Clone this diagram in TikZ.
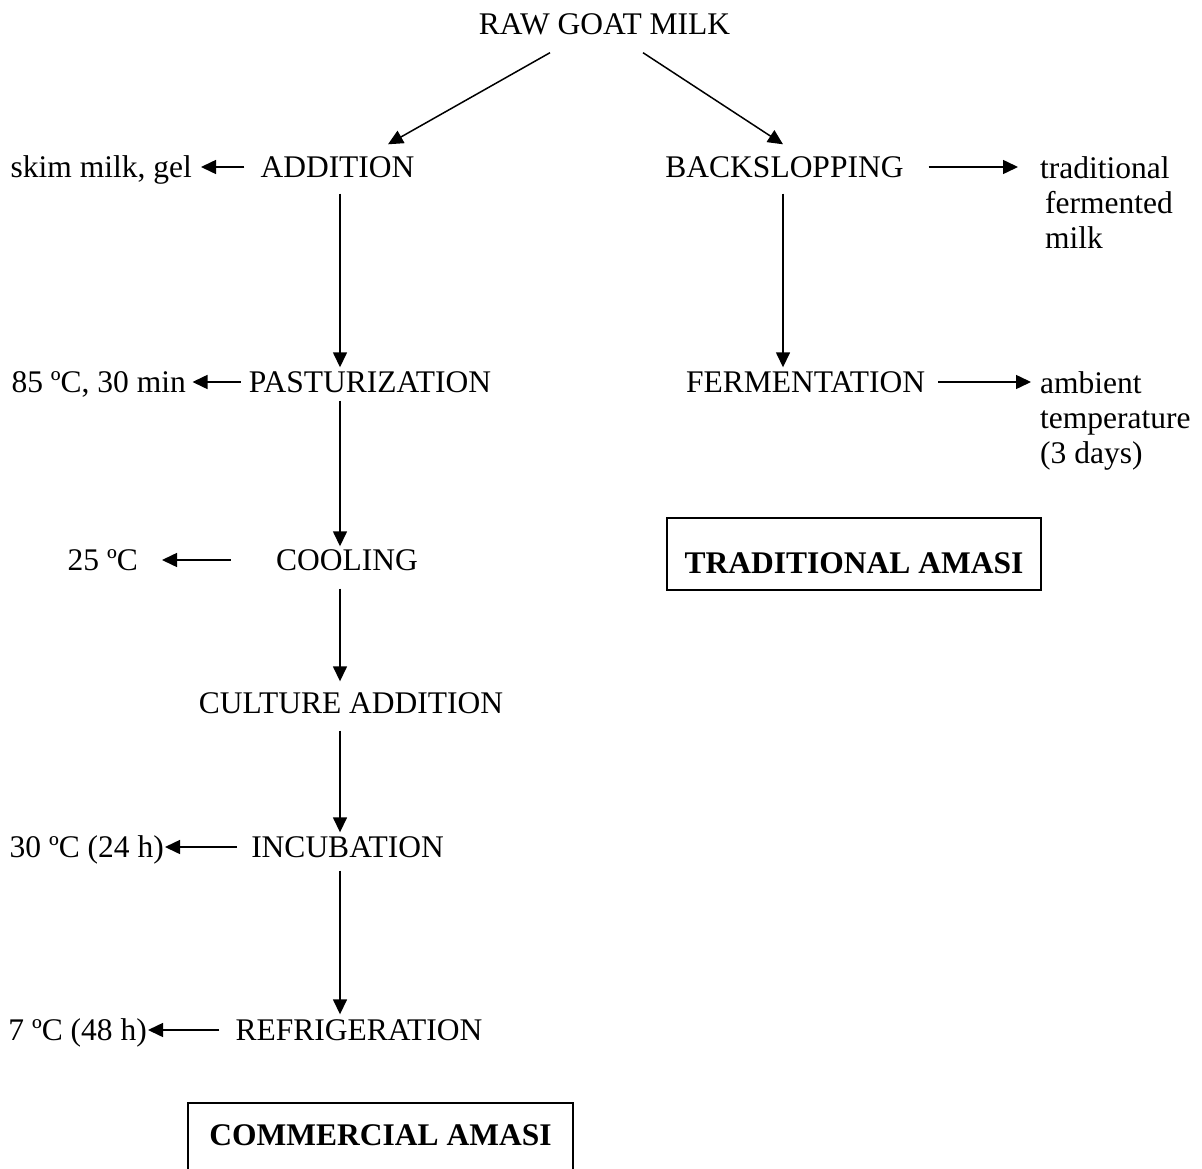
\documentclass[tikz,border=0pt]{standalone}
\usepackage{fontspec}
\setmainfont{Liberation Serif}
\usetikzlibrary{arrows.meta}

\begin{document}
\begin{tikzpicture}[x=1pt, y=-1pt,
  font=\fontsize{31.5}{35}\selectfont,
  arr/.style={-{Triangle[length=15pt,width=14pt]}, line width=1.5pt},
  lbl/.style={inner sep=0pt, text height=21pt, text depth=0pt},
  note/.style={inner sep=0pt, align=left, anchor=north west},
  amasi/.style={draw, line width=1.7pt, inner sep=0pt,
    font=\fontsize{31.5}{35}\selectfont\bfseries}]
  \useasboundingbox (0,0) rectangle (1202,1169);
  \clip (0,0) rectangle (1202,1169);
  \coordinate (colA) at (340,0);
  \coordinate (colB) at (783,0);
  % raw material
  \node[lbl] (raw) at (604.5,24) {RAW GOAT MILK};
  % commercial process
  \node[lbl] (add) at (337.5,167) {ADDITION};
  \node[lbl] (pas) at (370,382) {PASTURIZATION};
  \node[lbl] (cool) at (347,560) {COOLING};
  \node[lbl] (cult) at (351,703) {CULTURE ADDITION};
  \node[lbl] (inc) at (347.5,847) {INCUBATION};
  \node[lbl] (refr) at (359,1030) {REFRIGERATION};
  % conditions, commercial
  \node[lbl, anchor=east] (skim) at (192,167) {skim milk, gel};
  \node[lbl, anchor=east] (heat) at (186,382) {85 ºC, 30 min};
  \node[lbl, anchor=east] (c25) at (138,560) {25 ºC};
  \node[lbl, anchor=east] (c30) at (164,847) {30 ºC (24 h)};
  \node[lbl, anchor=east] (c7) at (147,1030) {7 ºC (48 h)};
  % traditional process
  \node[lbl] (back) at (784.5,167) {BACKSLOPPING};
  \node[lbl] (ferm) at (805.5,382) {FERMENTATION};
  \node[note] (trad) at (1040,156) {traditional\\\hspace*{5pt}fermented\\\hspace*{5pt}milk};
  \node[note] (amb) at (1040,371) {ambient\\temperature\\(3 days)};
  % products
  \node[amasi, minimum width=374pt, minimum height=72pt,
    text height=45pt, text depth=7pt] (tradbox) at (854,554) {TRADITIONAL AMASI};
  \node[amasi, minimum width=385pt, minimum height=100pt,
    text height=20pt, text depth=36pt] (combox) at (380.5,1153) {COMMERCIAL AMASI};
  % split
  \draw[arr] ([xshift=-54.5pt,yshift=-18pt]raw.south) -- ([xshift=50.5pt,yshift=12pt]add.north);
  \draw[arr] ([xshift=38.5pt,yshift=-18pt]raw.south) -- ([xshift=-1.5pt,yshift=12pt]back.north);
  % main flow
  \draw[arr, shorten <=16pt, shorten >=4pt] (add.south -| colA) -- (pas.north -| colA);
  \draw[arr, shorten <=8pt, shorten >=3pt] (pas.south -| colA) -- (cool.north -| colA);
  \draw[arr, shorten <=18pt, shorten >=11pt] (cool.south -| colA) -- (cult.north -| colA);
  \draw[arr, shorten <=17pt, shorten >=4pt] (cult.south -| colA) -- (inc.north -| colA);
  \draw[arr, shorten <=13pt, shorten >=5pt] (inc.south -| colA) -- (refr.north -| colA);
  \draw[arr, shorten <=16pt, shorten >=4pt] (back.south -| colB) -- (ferm.north -| colB);
  % side arrows
  \draw[arr, shorten <=16pt, shorten >=9pt] (add.west) -- (skim.east);
  \draw[arr, shorten <=8pt, shorten >=6.5pt] (pas.west) -- (heat.east);
  \draw[arr, shorten <=45pt, shorten >=24pt] (cool.west) -- (c25.east);
  \draw[arr, shorten <=14pt, shorten >=1pt] (inc.west) -- (c30.east);
  \draw[arr, shorten <=16pt, shorten >=1pt] (refr.west) -- (c7.east);
  \draw[arr, shorten <=25pt, shorten >=22pt] (back.east) -- (back.east -| trad.west);
  \draw[arr, shorten <=13pt, shorten >=9pt] (ferm.east) -- (ferm.east -| amb.west);
\end{tikzpicture}
\end{document}
